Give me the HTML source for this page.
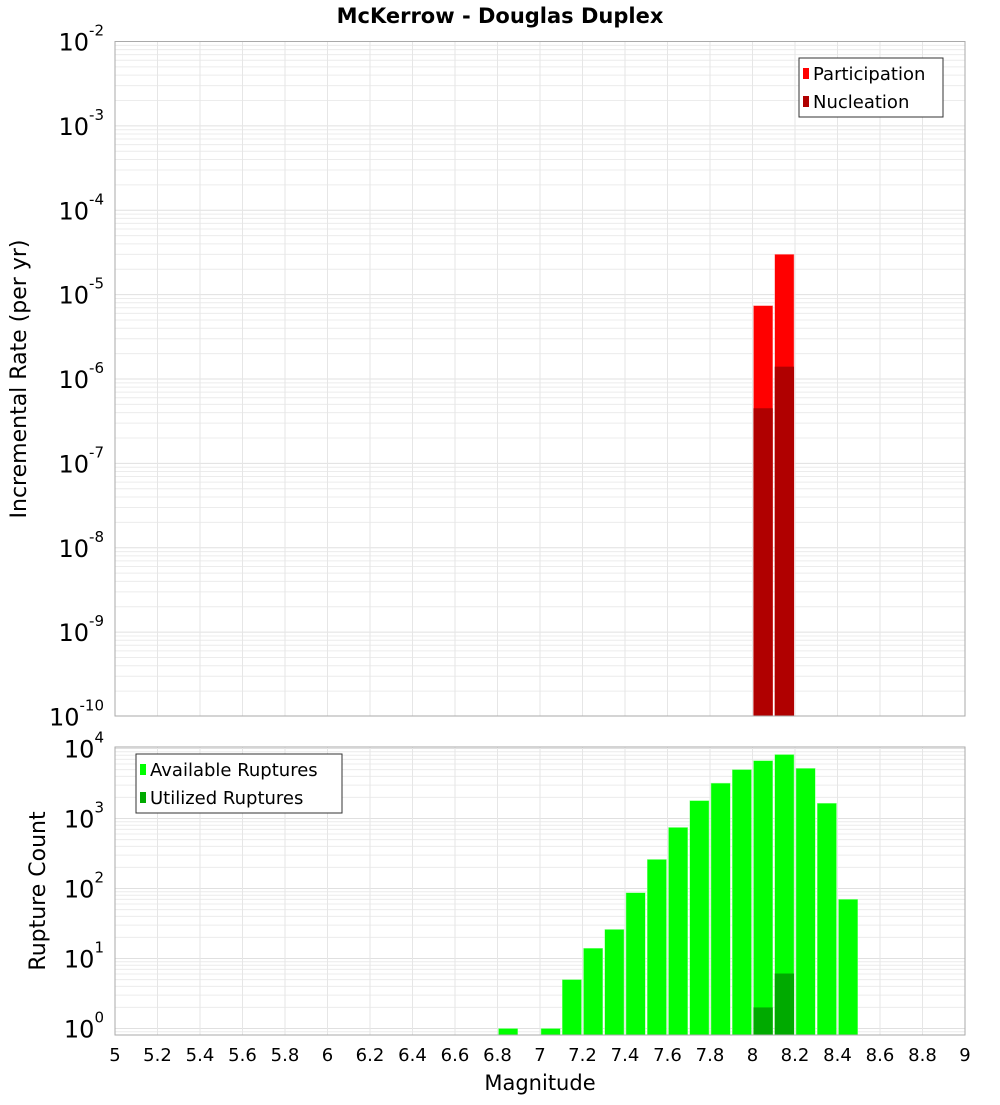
<!DOCTYPE html>
<html><head><meta charset="utf-8"><style>
body{margin:0;background:#fff;font-family:"Liberation Sans","DejaVu Sans",sans-serif}
svg text{font-family:"DejaVu Sans","Liberation Sans",sans-serif}
</style></head><body>
<svg id="c" width="1000" height="1100" xmlns="http://www.w3.org/2000/svg">
<text x="500" y="23" text-anchor="middle" font-size="21" font-weight="bold">McKerrow - Douglas Duplex</text>
<g id="top"></g><g id="bot"></g>
</svg>
<script>
const magBins=[8.0,8.1];
const participation=[7.4e-6,3.0e-5];
const nucleation=[4.5e-7,1.4e-6];
const countBins=[6.8,6.9,7.0,7.1,7.2,7.3,7.4,7.5,7.6,7.7,7.8,7.9,8.0,8.1,8.2,8.3,8.4];
const available=[1,0,1,5,14,26,87,260,745,1800,3200,5000,6700,8200,5200,1650,70];
const utilizedBins=[8.0,8.1];
const utilized=[2.0,6.1];
const xTicks=["5","5.2","5.4","5.6","5.8","6","6.2","6.4","6.6","6.8","7","7.2","7.4","7.6","7.8","8","8.2","8.4","8.6","8.8","9"];
const topExps=[-2,-3,-4,-5,-6,-7,-8,-9,-10];
const botExps=[4,3,2,1,0];

const NS="http://www.w3.org/2000/svg";
const X0=115,X1=965;
const x=m=>X0+(m-5)/4*(X1-X0);
function mk(p,t,a){const e=document.createElementNS(NS,t);for(const k in a)e.setAttribute(k,a[k]);p.appendChild(e);return e;}
const yT=v=>41.5+(-2-Math.log10(v))*84.375;
const yB=v=>748.5+(4-Math.log10(v))*70;

function frame(g,top,bot,yf,lo,hi){
  for(let d=lo;d<hi;d++)for(let k=1;k<10;k++){
    const yy=yf(k*Math.pow(10,d));if(yy<top||yy>bot)continue;
    const l=mk(g,'line',{x1:X0,x2:X1,y1:yy,y2:yy,stroke:k==1?'#e0e0e0':'#ececec','stroke-width':1});
    
    
  }
  xTicks.forEach(t=>{const xx=x(+t);
    const l=mk(g,'line',{x1:xx,x2:xx,y1:top,y2:bot,stroke:'#e6e6e6'});
    
    });
}
const G1=document.getElementById('top'),G2=document.getElementById('bot');
frame(G1,41.5,716,yT,-10,-2);
frame(G2,747,1035,yB,-1,5);

participation.forEach((v,i)=>{const r=mk(G1,'rect',{x:x(magBins[i])+1,y:yT(v),width:x(5.1)-x(5)-2,height:716-yT(v),fill:'#ff0000',stroke:'#ff9a9a','stroke-width':0.5});
  
  });
nucleation.forEach((v,i)=>{const r=mk(G1,'rect',{x:x(magBins[i])+1,y:yT(v),width:x(5.1)-x(5)-2,height:716-yT(v),fill:'#b00000'});
  
  });
available.forEach((v,i)=>{if(v<=0)return;const r=mk(G2,'rect',{x:x(countBins[i])+1,y:yB(v),width:x(5.1)-x(5)-2,height:1035-yB(v),fill:'#00ff00',stroke:'#9aff9a','stroke-width':0.5});
  
  });
utilized.forEach((v,i)=>{const r=mk(G2,'rect',{x:x(utilizedBins[i])+1,y:yB(v),width:x(5.1)-x(5)-2,height:1035-yB(v),fill:'#00aa00'});
  
  });

[[G1,41.5,716],[G2,747,1035]].forEach(([g,t,b])=>{const r=mk(g,'rect',{x:X0,y:t,width:X1-X0,height:b-t,fill:'none',stroke:'#aaa'});
  
  });

function ylab(g,yy,e){const t=mk(g,'text',{x:104,y:yy+9,'text-anchor':'end','font-size':24});
  
  
  t.textContent='10';const s=mk(t,'tspan',{dy:-15,'font-size':15});s.textContent=String(e);}
topExps.forEach(e=>ylab(G1,yT(Math.pow(10,e)),e));
botExps.forEach(e=>ylab(G2,yB(Math.pow(10,e)),e));
xTicks.forEach(t=>{const l=mk(G2,'text',{x:x(+t),y:1061,'text-anchor':'middle','font-size':18});
  
  
  l.textContent=t;});

function txt(s,a,name){const t=mk(document.getElementById('c'),'text',a);t.textContent=s;
  
  return t;}
txt('Magnitude',{x:540,y:1090,'text-anchor':'middle','font-size':21},'x-axis-title');
txt('Incremental Rate (per yr)',{x:0,y:0,'text-anchor':'middle','font-size':22,transform:'translate(26,379) rotate(-90)'},'top-y-axis-title');
txt('Rupture Count',{x:0,y:0,'text-anchor':'middle','font-size':22,transform:'translate(45,891) rotate(-90)'},'bottom-y-axis-title');

function legend(g,x0,y0,w,h,items){
  const r=mk(g,'rect',{x:x0,y:y0,width:w,height:h,fill:'#fff',stroke:'#333'});
  
  
  items.forEach(([c,l],i)=>{const yy=y0+15+i*28;
    const s=mk(g,'rect',{x:x0+4,y:yy-5,width:6,height:11,fill:c});
    
    
    const t=mk(g,'text',{x:x0+14,y:yy+7,'font-size':18});t.textContent=l;
    
    });
}
legend(G1,799,58,144,59,[['#ff0000','Participation'],['#b00000','Nucleation']]);
legend(G2,136,754,206,59,[['#00ff00','Available Ruptures'],['#00aa00','Utilized Ruptures']]);
</script>
</body></html>
